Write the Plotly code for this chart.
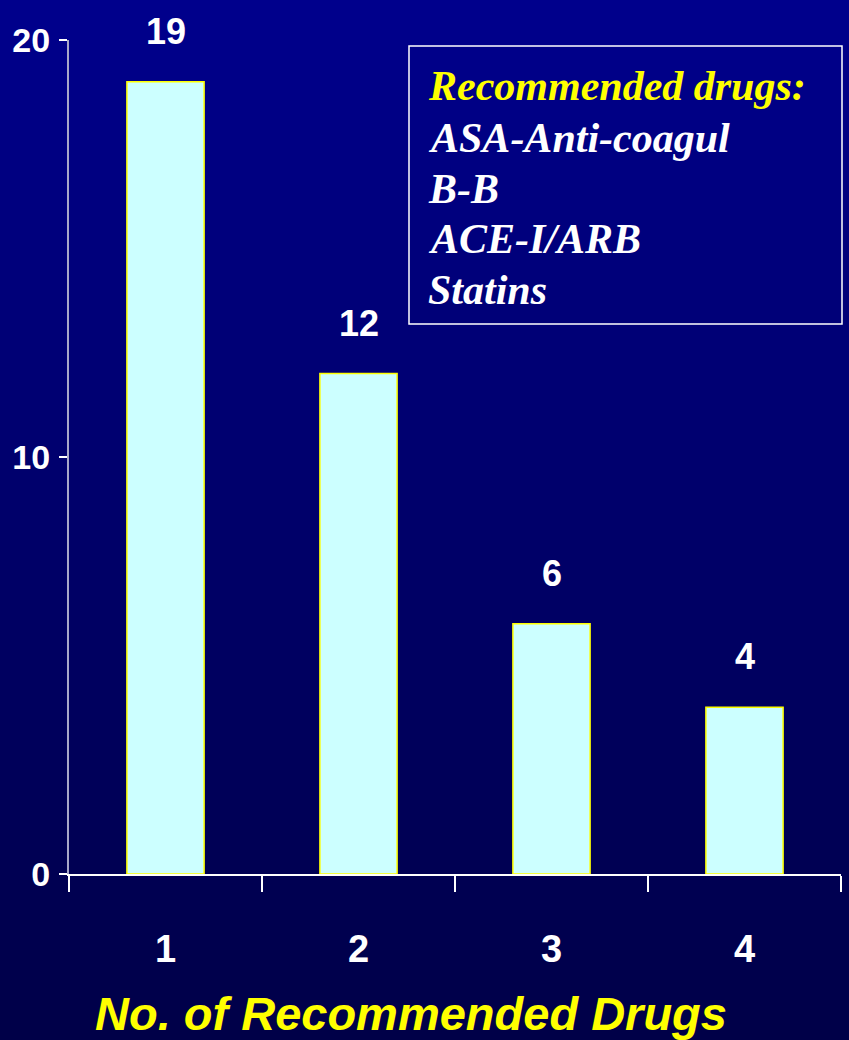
import plotly.graph_objects as go

categories = ["1", "2", "3", "4"]
values = [19, 12, 6, 4]
y_ticks = [0, 10, 20]
x_title = "No. of Recommended Drugs"
box_title = "Recommended drugs:"
box_items = ["ASA-Anti-coagul", "B-B", "ACE-I/ARB", "Statins"]

W, H = 849, 1040
ML, MR, MT, MB = 69, 8, 40, 166
PW, PH = W - ML - MR, H - MT - MB

def px_x(x):
    return (x - ML) / PW

def px_y(y):
    return (H - MB - y) / PH

sans = "Liberation Sans, Arial, sans-serif"

fig = go.Figure()
fig.add_trace(go.Bar(
    x=categories, y=values,
    marker=dict(color="#CCFFFF", line=dict(color="#FFFF00", width=1.5)),
    width=0.4, showlegend=False, hoverinfo="skip",
))

shapes = []
# background gradient
N = 104
top = (0, 0, 140)
bot = (0, 0, 72)
for i in range(N):
    t = i / (N - 1)
    c = tuple(round(top[k] + (bot[k] - top[k]) * t) for k in range(3))
    y1 = H * i / N
    y2 = H * (i + 1) / N + 1
    shapes.append(dict(type="rect", xref="paper", yref="paper",
                       x0=px_x(0), x1=px_x(W), y0=px_y(y2), y1=px_y(y1),
                       fillcolor="rgb(%d,%d,%d)" % c, line=dict(width=0), layer="below"))
# info box
shapes.append(dict(type="rect", xref="paper", yref="paper",
                   x0=px_x(409), x1=px_x(842), y0=px_y(324), y1=px_y(46),
                   line=dict(color="#FFFFFF", width=1.5), fillcolor="rgba(0,0,0,0)", layer="above"))

annotations = []
for i, v in enumerate(values):
    annotations.append(dict(x=i, y=v, xref="x", yref="y", text=str(v), showarrow=False,
                            yanchor="bottom", yshift=28,
                            font=dict(family=sans, size=36, color="white", weight="bold")))
line_y = [86, 138, 189, 239, 290]
texts = [box_title] + box_items
for i, (t, yy) in enumerate(zip(texts, line_y)):
    annotations.append(dict(x=px_x(426), y=px_y(yy), xref="paper", yref="paper", text=t,
                            showarrow=False, xanchor="left", yanchor="middle",
                            font=dict(family="Liberation Serif, Times New Roman, serif", size=42,
                                      color="#FFFF00" if i == 0 else "white",
                                      weight="bold", style="italic")))
annotations.append(dict(x=px_x(411), y=px_y(1013), xref="paper", yref="paper", text=x_title,
                        showarrow=False, xanchor="center", yanchor="middle",
                        font=dict(family=sans, size=47,
                                  color="#FFFF00", weight="bold", style="italic")))

fig.update_layout(
    width=W, height=H,
    margin=dict(l=ML, r=MR, t=MT, b=MB, autoexpand=False),
    paper_bgcolor="rgb(0,0,72)",
    plot_bgcolor="rgba(0,0,0,0)",
    shapes=shapes, annotations=annotations,
    bargap=0.6,
    xaxis=dict(type="category", range=[-0.5, len(categories) - 0.5], showgrid=False,
               automargin=False,
               showline=True, linecolor="white", linewidth=2,
               ticks="outside", tickson="boundaries", ticklen=16, tickcolor="white", tickwidth=1.5,
               ticklabelstandoff=40,
               tickfont=dict(family=sans, size=38, color="white", weight="bold"),
               zeroline=False),
    yaxis=dict(range=[0, 20], tickvals=y_ticks, showgrid=False, showline=True,
               automargin=False,
               linecolor="#A8A8C8", linewidth=2, ticks="outside", ticklen=8,
               tickcolor="white", tickwidth=2, ticklabelstandoff=2,
               tickfont=dict(family=sans, size=34, color="white", weight="bold"),
               zeroline=False),
)

fig.write_html("out.html")
